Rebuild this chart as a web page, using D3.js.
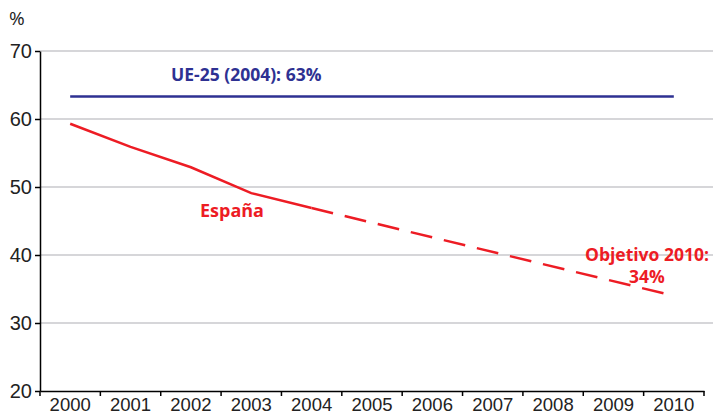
<!DOCTYPE html>
<html>
<head>
<meta charset="utf-8">
<script src="https://cdn.jsdelivr.net/npm/d3@7"></script>
<style>
  body { margin: 0; background: #fff; }
  svg { display: block; font-family: "Open Sans", sans-serif; }
  .grid line { stroke: #c8c8cc; stroke-width: 1.5; }
  .axis path, .axis line { stroke: #000; stroke-width: 1.5; }
  .axis text { fill: #222; }
</style>
</head>
<body>
<script>
// data
var years = ["2000", "2001", "2002", "2003", "2004", "2005", "2006", "2007", "2008", "2009", "2010"];
var yTicks = [20, 30, 40, 50, 60, 70];
var espanaYears = ["2000", "2001", "2002", "2003", "2004"];
var espanaValues = [59.3, 55.9, 52.9, 49.1, 46.9];
var objetivoYears = ["2004", "2010"];
var objetivoValues = [46.9, 34.0];
var ue25Values = [63.3, 63.3, 63.3, 63.3, 63.3, 63.3, 63.3, 63.3, 63.3, 63.3, 63.3];

var width = 713, height = 415;
var margin = { left: 40, right: 9, top: 51, bottom: 24 };
var blue = "#2e3192", red = "#ed1c24";

var svg = d3.select("body").append("svg")
  .attr("width", width)
  .attr("height", height);

var x = d3.scaleBand()
  .domain(years)
  .range([margin.left, 704]);

var y = d3.scaleLinear()
  .domain([20, 70])
  .range([height - margin.bottom, margin.top]);

// gridlines
svg.append("g")
  .attr("class", "grid")
  .selectAll("line")
  .data(yTicks.slice(1))
  .enter()
  .append("line")
  .attr("x1", margin.left)
  .attr("x2", width)
  .attr("y1", function (d) { return y(d); })
  .attr("y2", function (d) { return y(d); });

// y axis
var yAxis = d3.axisLeft(y)
  .tickValues(yTicks)
  .tickSize(5)
  .tickPadding(3)
  .tickSizeOuter(0);
svg.append("g")
  .attr("class", "axis")
  .attr("transform", "translate(" + margin.left + ",0)")
  .call(yAxis)
  .call(function (g) {
    g.selectAll("text").style("font-size", "20px").attr("dy", "0.34em");
  });

// x axis, ticks on band edges
var xAxis = d3.axisBottom(x)
  .tickSize(0)
  .tickPadding(7);
var gx = svg.append("g")
  .attr("class", "axis")
  .attr("transform", "translate(0," + y(20) + ")")
  .call(xAxis);
gx.selectAll("text").style("font-size", "18.5px");
gx.selectAll(".edge")
  .data(years.concat(["end"]))
  .enter()
  .append("line")
  .attr("class", "edge")
  .attr("x1", function (d, i) { return margin.left + i * x.step(); })
  .attr("x2", function (d, i) { return margin.left + i * x.step(); })
  .attr("y1", 0)
  .attr("y2", 5);

var line = d3.line()
  .x(function (d) { return x(d[0]) + x.bandwidth() / 2; })
  .y(function (d) { return y(d[1]); });

// UE-25
svg.append("path")
  .datum(d3.zip(years, ue25Values))
  .attr("d", line)
  .attr("fill", "none")
  .attr("stroke", blue)
  .attr("stroke-width", 2.5);

// España
svg.append("path")
  .datum(d3.zip(espanaYears, espanaValues))
  .attr("d", line)
  .attr("fill", "none")
  .attr("stroke", red)
  .attr("stroke-width", 2.5);

// Objetivo
svg.append("path")
  .datum(d3.zip(objetivoYears, objetivoValues))
  .attr("d", line)
  .attr("fill", "none")
  .attr("stroke", red)
  .attr("stroke-width", 2.5)
  .attr("stroke-dasharray", "22,12");

// labels
svg.append("text")
  .attr("x", 9).attr("y", 25)
  .style("font-size", "19px")
  .attr("fill", "#222")
  .text("%");

svg.append("text")
  .attr("x", 171).attr("y", 81)
  .style("font-size", "17.5px").style("font-weight", "bold")
  .attr("fill", blue)
  .text("UE-25 (2004): 63%");

svg.append("text")
  .attr("x", 200).attr("y", 217)
  .style("font-size", "18px").style("font-weight", "bold")
  .attr("fill", red)
  .text("España");

svg.append("text")
  .attr("x", 647).attr("y", 261)
  .attr("text-anchor", "middle")
  .style("font-size", "17.5px").style("font-weight", "bold")
  .attr("fill", red)
  .text("Objetivo 2010:");

svg.append("text")
  .attr("x", 647).attr("y", 283)
  .attr("text-anchor", "middle")
  .style("font-size", "17.5px").style("font-weight", "bold")
  .attr("fill", red)
  .text("34%");
</script>
</body>
</html>
